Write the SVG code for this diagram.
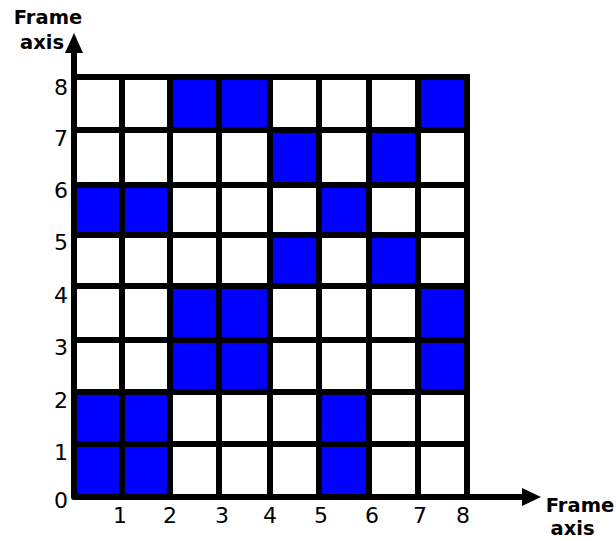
<svg xmlns="http://www.w3.org/2000/svg" width="616" height="541" viewBox="0 0 616 541">
<style>
.cell{fill:#0000ff}
.grid{stroke:#000;stroke-width:6;fill:none;stroke-linecap:square}
.num{font-family:"DejaVu Sans",sans-serif;font-size:22px;fill:#000;text-anchor:middle}
.lab{font-family:"DejaVu Sans",sans-serif;font-size:19.5px;font-weight:bold;fill:#000;text-anchor:middle}
</style>
<rect width="616" height="541" fill="#fff"/>
<g id="cells">
<rect class="cell" x="170" y="77" width="49" height="53"/>
<rect class="cell" x="219" y="77" width="51" height="53"/>
<rect class="cell" x="418" y="77" width="49" height="53"/>
<rect class="cell" x="270" y="130" width="49" height="55"/>
<rect class="cell" x="369" y="130" width="49" height="55"/>
<rect class="cell" x="74" y="185" width="48" height="50"/>
<rect class="cell" x="122" y="185" width="48" height="50"/>
<rect class="cell" x="319" y="185" width="50" height="50"/>
<rect class="cell" x="270" y="235" width="49" height="51"/>
<rect class="cell" x="369" y="235" width="49" height="51"/>
<rect class="cell" x="170" y="286" width="49" height="54"/>
<rect class="cell" x="219" y="286" width="51" height="54"/>
<rect class="cell" x="418" y="286" width="49" height="54"/>
<rect class="cell" x="170" y="340" width="49" height="52"/>
<rect class="cell" x="219" y="340" width="51" height="52"/>
<rect class="cell" x="418" y="340" width="49" height="52"/>
<rect class="cell" x="74" y="392" width="48" height="52"/>
<rect class="cell" x="122" y="392" width="48" height="52"/>
<rect class="cell" x="319" y="392" width="50" height="52"/>
<rect class="cell" x="74" y="444" width="48" height="53"/>
<rect class="cell" x="122" y="444" width="48" height="53"/>
<rect class="cell" x="319" y="444" width="50" height="53"/>
</g>
<g id="grid">
<path class="grid" d="M122 77V497M170 77V497M219 77V497M270 77V497M319 77V497M369 77V497M418 77V497"/>
<path class="grid" d="M74 130H467M74 185H467M74 235H467M74 286H467M74 340H467M74 392H467M74 444H467"/>
<path class="grid" style="stroke-linejoin:miter" d="M74 77H467V497"/>
</g>
<g id="axes">
<path class="grid" style="stroke-linecap:butt;stroke-linejoin:round" d="M74 52V497H524"/>
<polygon points="65,53 83,53 74,33" fill="#000"/>
<polygon points="522,488 522,506 541,497" fill="#000"/>
</g>
<g id="labels">
<text class="num" x="61" y="95">8</text>
<text class="num" x="61" y="146">7</text>
<text class="num" x="61" y="198">6</text>
<text class="num" x="61" y="250">5</text>
<text class="num" x="61" y="303">4</text>
<text class="num" x="61" y="355">3</text>
<text class="num" x="61" y="408">2</text>
<text class="num" x="61" y="460">1</text>
<text class="num" x="61" y="508">0</text>
<text class="num" x="120" y="523">1</text>
<text class="num" x="170" y="523">2</text>
<text class="num" x="222" y="523">3</text>
<text class="num" x="270" y="523">4</text>
<text class="num" x="321" y="523">5</text>
<text class="num" x="372" y="523">6</text>
<text class="num" x="420" y="523">7</text>
<text class="num" x="463" y="523">8</text>
<text class="lab" x="48" y="24">Frame</text>
<text class="lab" x="42" y="49">axis</text>
<text class="lab" x="580" y="512">Frame</text>
<text class="lab" x="572.5" y="535">axis</text>
</g>
</svg>
